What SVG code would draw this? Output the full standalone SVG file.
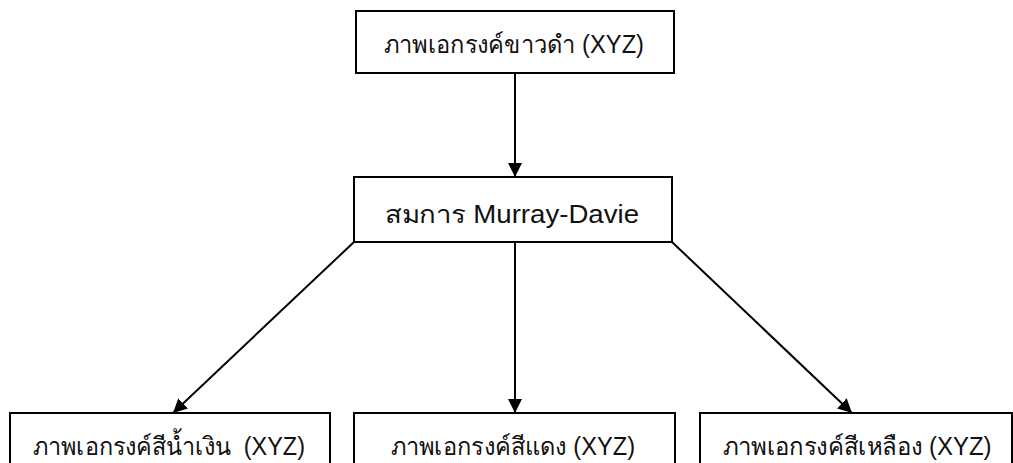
<svg xmlns="http://www.w3.org/2000/svg" width="1013" height="463" viewBox="0 0 1013 463">
  <style>
    .box { fill: #ffffff; stroke: #000000; stroke-width: 2; }
    .label { font-family: "Liberation Sans", Arial, sans-serif; font-size: 25px; fill: #111111; text-anchor: middle; }
    .edge { stroke: #000000; stroke-width: 2; fill: none; marker-end: url(#arrow); }
  </style>
  <defs>
    <marker id="arrow" viewBox="0 0 14 14" refX="14" refY="7" markerWidth="14" markerHeight="14" markerUnits="userSpaceOnUse" orient="auto">
      <path d="M0,0 L14,7 L0,14 Z" fill="#000000"/>
    </marker>
  </defs>
  <rect width="1013" height="463" fill="#ffffff"/>

  <g id="connectors">
    <line class="edge" x1="515" y1="73" x2="515" y2="177"/>
    <line class="edge" x1="515" y1="242" x2="515" y2="413"/>
    <line class="edge" x1="354" y1="242" x2="173" y2="413"/>
    <line class="edge" x1="672" y1="242" x2="852" y2="413"/>
  </g>

  <g id="node-bw">
    <rect class="box" x="356" y="11" width="318" height="62"/>
    <text class="label" x="514" y="53" textLength="260" lengthAdjust="spacingAndGlyphs">ภาพเอกรงค์ขาวดำ (XYZ)</text>
  </g>

  <g id="node-murray-davie">
    <rect class="box" x="354" y="177" width="318" height="65"/>
    <text class="label" x="512" y="223" textLength="254" lengthAdjust="spacingAndGlyphs">สมการ Murray-Davie</text>
  </g>

  <g id="node-blue">
    <rect class="box" x="10" y="413" width="320" height="60"/>
    <text class="label" x="169" y="455" textLength="272" lengthAdjust="spacingAndGlyphs" xml:space="preserve">ภาพเอกรงค์สีน้ำเงิน  (XYZ)</text>
  </g>

  <g id="node-red">
    <rect class="box" x="354" y="413" width="321" height="60"/>
    <text class="label" x="513" y="455" textLength="244" lengthAdjust="spacingAndGlyphs">ภาพเอกรงค์สีแดง (XYZ)</text>
  </g>

  <g id="node-yellow">
    <rect class="box" x="700" y="413" width="312" height="60"/>
    <text class="label" x="857" y="455" textLength="269" lengthAdjust="spacingAndGlyphs">ภาพเอกรงค์สีเหลือง (XYZ)</text>
  </g>
</svg>
